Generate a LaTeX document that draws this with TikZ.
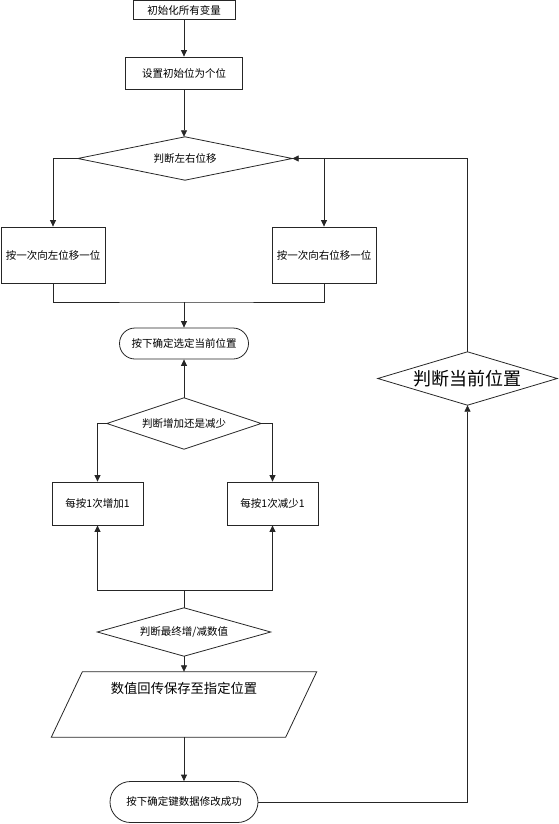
\documentclass[tikz,border=0pt]{standalone}
\usepackage{fontspec}
\setmainfont{Noto Sans CJK SC}
\usetikzlibrary{arrows.meta,calc}
\begin{document}
\begin{tikzpicture}[x=1pt,y=-1pt,
  line/.style={draw=black!85, line width=0.8pt},
  arr/.style={line, -{Triangle[length=6.5pt,width=6pt]}},
  box/.style={draw=black!85, line width=0.8pt, rectangle, inner sep=0pt, font=\fontsize{10.5pt}{12pt}\selectfont},
  rbox/.style={box, rounded corners=#1},
  dia/.style={rectangle, inner sep=0pt, font=\fontsize{10.5pt}{12pt}\selectfont},
]
\useasboundingbox (0,0) rectangle (558,824);

\node[box, minimum width=102, minimum height=19] (b1) at (184,10) {初始化所有变量};
\node[box, minimum width=117, minimum height=32] (b2) at (184,73) {设置初始位为个位};
\node[dia, minimum width=214, minimum height=43] (d1) at (185,158.5) {判断左右位移};
\node[box, minimum width=104, minimum height=56] (lbox) at (53,255) {按一次向左位移一位};
\node[box, minimum width=104, minimum height=56] (rbox) at (324,255) {按一次向右位移一位};
\node[rbox=15.5pt, minimum width=129, minimum height=31] (r1) at (184,343.5) {按下确定选定当前位置};
\node[dia, minimum width=154, minimum height=51] (d2) at (184,423.5) {判断增加还是减少};
\node[box, minimum width=91, minimum height=43] (ibox) at (97.5,503.5) {每按1次增加1};
\node[box, minimum width=91, minimum height=43] (dbox) at (272.5,503.5) {每按1次减少1};
\node[dia, minimum width=173, minimum height=48] (d3) at (184,632) {判断最终增/减数值};
\node[rectangle, inner sep=0pt, minimum width=265, minimum height=65] (par) at (184,704.5) {};
\node[font=\fontsize{13.3pt}{15pt}\selectfont, inner sep=0pt] (ptext) at (184,688) {数值回传保存至指定位置};
\node[rbox=20.5pt, minimum width=148, minimum height=41] (fin) at (184,802) {按下确定键数据修改成功};
\node[dia, minimum width=179, minimum height=53, font=\fontsize{18pt}{20pt}\selectfont] (d4) at (467.5,378.5) {判断当前位置};

\foreach \n in {d1,d2,d3,d4}
  \draw[line] (\n.north) -- (\n.east) -- (\n.south) -- (\n.west) -- cycle;
\draw[line] ($(par.north west)+(31,0)$) -- (par.north east) -- ($(par.south east)+(-31,0)$) -- (par.south west) -- cycle;

\coordinate (m1) at (184,302);
\coordinate (m2) at (184,590);

\draw[arr] (b1.south) -- (b2.north);
\draw[arr] (b2.south) -- (d1.north -| b2.south);
\draw[arr] (d1.west) -| (lbox.north);
\draw[arr] (d1.east) -| (rbox.north);
\draw[line] (lbox.south) |- (m1) -| (rbox.south);
\draw[arr] (m1) -- (r1.north);
\draw[arr] (d2.north) -- (r1.south);
\draw[arr] (d2.west) -| (ibox.north);
\draw[arr] (d2.east) -| (dbox.north);
\draw[line] (d3.north) -- (m2);
\draw[arr] (m2) -| (ibox.south);
\draw[arr] (m2) -| (dbox.south);
\draw[arr] (d3.south) -- (par.north);
\draw[arr] (par.south) -- (fin.north);
\draw[arr] (fin.east) -| (d4.south);
\draw[arr] (d4.north) |- (d1.east);
\end{tikzpicture}
\end{document}
